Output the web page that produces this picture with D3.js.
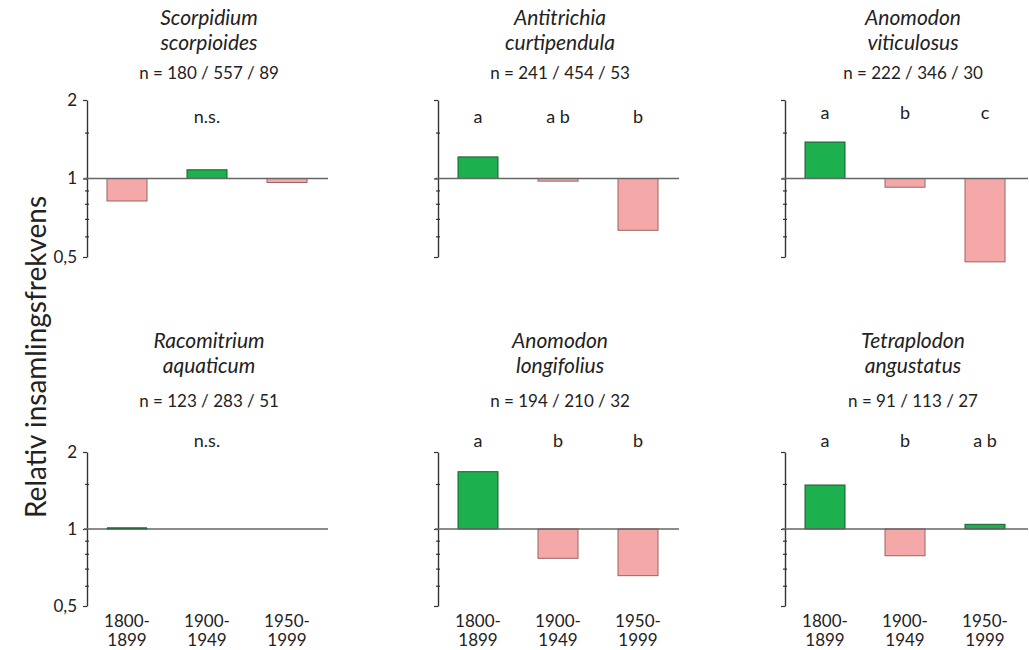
<!DOCTYPE html>
<html>
<head>
<meta charset="utf-8">
<script src="https://cdn.jsdelivr.net/npm/d3@7"></script>
<style>
  body { margin: 0; background: #fff; }
  text { font-family: Lato, "Open Sans", sans-serif; fill: #222; }
</style>
</head>
<body>
<script>
// data
var genus = ["Scorpidium", "Antitrichia", "Anomodon", "Racomitrium", "Anomodon", "Tetraplodon"];
var epithet = ["scorpioides", "curtipendula", "viticulosus", "aquaticum", "longifolius", "angustatus"];
var nLabels = ["n = 180 / 557 / 89", "n = 241 / 454 / 53", "n = 222 / 346 / 30",
               "n = 123 / 283 / 51", "n = 194 / 210 / 32", "n = 91 / 113 / 27"];
var periods = ["1800-1899", "1900-1949", "1950-1999"];
var periodLines = [["1800-", "1899"], ["1900-", "1949"], ["1950-", "1999"]];
var values = [
    [0.82, 1.08, 0.965],
    [1.21, 0.977, 0.633],
    [1.38, 0.926, 0.479],
    [1.005, 1.0, 1.0],
    [1.675, 0.768, 0.657],
    [1.486, 0.786, 1.043]
];
var letters = [
    ["", "n.s.", ""],
    ["a", "a b", "b"],
    ["a", "b", "c"],
    ["", "n.s.", ""],
    ["a", "b", "b"],
    ["a", "b", "a b"]
];
var tickVals = [0.5, 0.6, 0.7, 0.8, 0.9, 1, 1.5, 2];
var majorTicks = [0.5, 1, 2];

var width = 1029, height = 650;
var svg = d3.select("body").append("svg").attr("width", width).attr("height", height);

var colX = [87, 438, 785];
var rowY = [[100, 257], [452, 606]];
var plotW = 240;
var titleY = [[25, 50, 79], [348, 373, 407]];
var letterY = [[123, 119], [447, 447]];

for (var p = 0; p < 6; p++) {
    var row = Math.floor(p / 3), col = p % 3;
    var g = svg.append("g").attr("transform", "translate(" + colX[col] + ",0)");

    var x = d3.scaleBand().domain(periods).range([0, plotW]).paddingInner(0.5).paddingOuter(0.25);
    var y = d3.scaleLog().domain([0.5, 2]).range([rowY[row][1], rowY[row][0]]);

    // titles
    var cx = plotW / 2 + (col == 2 ? 8 : 2);
    g.append("text").attr("x", cx).attr("y", titleY[row][0]).attr("text-anchor", "middle")
        .style("font-style", "italic").style("font-size", "21px").text(genus[p]);
    g.append("text").attr("x", cx).attr("y", titleY[row][1]).attr("text-anchor", "middle")
        .style("font-style", "italic").style("font-size", "21px").text(epithet[p]);
    g.append("text").attr("x", cx).attr("y", titleY[row][2]).attr("text-anchor", "middle")
        .style("font-size", "17px").text(nLabels[p]);

    // y axis
    var axis = d3.axisLeft(y).tickValues(tickVals).tickSizeOuter(0).tickSizeInner(4)
        .tickPadding(6)
        .tickFormat(function (d) {
            return (col == 0 && majorTicks.indexOf(d) >= 0) ? String(d).replace(".", ",") : "";
        });
    var ax = g.append("g").call(axis);
    ax.select(".domain").attr("stroke", "#333").attr("stroke-width", 1.4);
    ax.selectAll(".tick line")
        .attr("stroke", "#333").attr("stroke-width", 1.2)
        .attr("x1", function (d) { return majorTicks.indexOf(d) >= 0 ? 0 : 2; })
        .attr("x2", function (d) { return majorTicks.indexOf(d) >= 0 ? -4 : -2; });
    ax.selectAll(".tick text").style("font-size", "17px").style("font-family", "Lato, sans-serif").attr("fill", "#222");

    // bars
    var vals = values[p];
    g.selectAll(".bar").data(vals).enter().append("rect")
        .attr("class", "bar")
        .attr("x", function (d, i) { return x(periods[i]); })
        .attr("width", x.bandwidth())
        .attr("y", function (d) { return Math.min(y(d), y(1)); })
        .attr("height", function (d) { return Math.abs(y(d) - y(1)); })
        .attr("fill", function (d) { return d >= 1 ? "#1db04f" : "#f4a9a8"; })
        .attr("stroke", function (d) { return d >= 1 ? "#1e5a30" : "#9a6464"; })
        .attr("stroke-width", function (d) { return Math.abs(y(d) - y(1)) < 0.5 ? 0 : 1; });

    // reference line at 1
    g.append("line").attr("x1", -3).attr("x2", col == 2 ? plotW + 3 : plotW + 1)
        .attr("y1", y(1)).attr("y2", y(1))
        .attr("stroke", "#666").attr("stroke-width", 1.6);

    // tiny bar on top of line
    g.selectAll(".thin").data(vals.filter(function (d) { return d > 1 && y(1) - y(d) < 2; })).enter()
        .append("line")
        .attr("x1", x(periods[0])).attr("x2", x(periods[0]) + x.bandwidth())
        .attr("y1", y(1) - 1).attr("y2", y(1) - 1)
        .attr("stroke", "#1e6a36").attr("stroke-width", 1.5);

    // significance letters
    g.selectAll(".letter").data(letters[p]).enter().append("text")
        .attr("x", function (d, i) { return x(periods[i]) + x.bandwidth() / 2; })
        .attr("y", letterY[row][col == 2 ? 1 : 0])
        .attr("text-anchor", "middle")
        .style("font-size", "18px")
        .text(function (d) { return d; });

    // x labels on bottom row
    if (row == 1) {
        periodLines.forEach(function (pl, i) {
            var t = g.append("text").attr("text-anchor", "middle")
                .attr("x", x(periods[i]) + x.bandwidth() / 2)
                .style("font-size", "17px");
            t.append("tspan").attr("x", x(periods[i]) + x.bandwidth() / 2).attr("y", 627).text(pl[0]);
            t.append("tspan").attr("x", x(periods[i]) + x.bandwidth() / 2).attr("y", 646).text(pl[1]);
        });
    }
}

svg.append("text")
    .attr("transform", "translate(46,357) rotate(-90)")
    .attr("text-anchor", "middle")
    .style("font-size", "28px")
    .text("Relativ insamlingsfrekvens");
</script>
</body>
</html>
